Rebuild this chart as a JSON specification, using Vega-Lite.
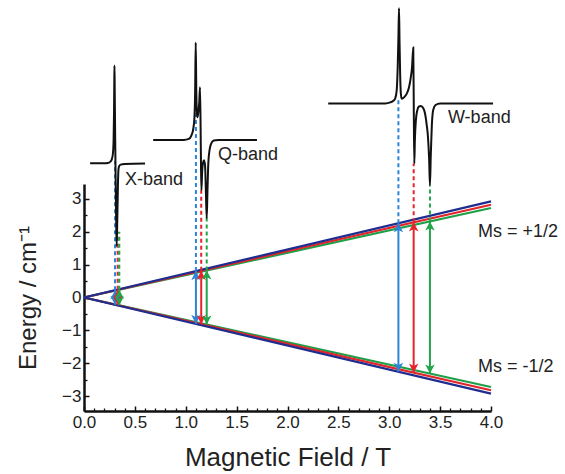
{
  "$schema": "https://vega.github.io/schema/vega-lite/v6.json",
  "width": 407,
  "height": 227,
  "autosize": "none",
  "padding": {"left": 84, "top": 184, "right": 74, "bottom": 63},
  "background": "white",
  "config": {"view": {"stroke": null}, "font": "Liberation Sans"},
  "datasets": {
    "zeeman": [
      {"B": 0, "E": 0, "comp": "g3", "ms": "up"}, {"B": 4, "E": 2.72, "comp": "g3", "ms": "up"},
      {"B": 0, "E": 0, "comp": "g3", "ms": "dn"}, {"B": 4, "E": -2.72, "comp": "g3", "ms": "dn"},
      {"B": 0, "E": 0, "comp": "g2", "ms": "up"}, {"B": 4, "E": 2.82, "comp": "g2", "ms": "up"},
      {"B": 0, "E": 0, "comp": "g2", "ms": "dn"}, {"B": 4, "E": -2.82, "comp": "g2", "ms": "dn"},
      {"B": 0, "E": 0, "comp": "g1", "ms": "up"}, {"B": 4, "E": 2.92, "comp": "g1", "ms": "up"},
      {"B": 0, "E": 0, "comp": "g1", "ms": "dn"}, {"B": 4, "E": -2.92, "comp": "g1", "ms": "dn"}
    ],
    "trans": [
      {"band": "X", "comp": "g1", "B": 0.305, "lo": -0.223, "hi": 0.223, "top": 4.15},
      {"band": "X", "comp": "g2", "B": 0.331, "lo": -0.233, "hi": 0.233, "top": 2.0},
      {"band": "X", "comp": "g3", "B": 0.347, "lo": -0.236, "hi": 0.236, "top": 2.0},
      {"band": "Q", "comp": "g1", "B": 1.10, "lo": -0.803, "hi": 0.803, "top": 5.74},
      {"band": "Q", "comp": "g2", "B": 1.152, "lo": -0.812, "hi": 0.812, "top": 3.26},
      {"band": "Q", "comp": "g3", "B": 1.206, "lo": -0.82, "hi": 0.82, "top": 2.43},
      {"band": "W", "comp": "g1", "B": 3.09, "lo": -2.256, "hi": 2.256, "top": 6.05},
      {"band": "W", "comp": "g2", "B": 3.24, "lo": -2.284, "hi": 2.284, "top": 4.07},
      {"band": "W", "comp": "g3", "B": 3.40, "lo": -2.312, "hi": 2.312, "top": 3.41}
    ],
    "spectra": [
      {"band": "X", "B": 0.06, "E": 4.08}, {"band": "X", "B": 0.20, "E": 4.08}, {"band": "X", "B": 0.235, "E": 4.09},
      {"band": "X", "B": 0.26, "E": 4.13}, {"band": "X", "B": 0.275, "E": 4.22}, {"band": "X", "B": 0.285, "E": 4.4},
      {"band": "X", "B": 0.291, "E": 4.8}, {"band": "X", "B": 0.295, "E": 5.6}, {"band": "X", "B": 0.2975, "E": 6.5},
      {"band": "X", "B": 0.2995, "E": 7.05}, {"band": "X", "B": 0.302, "E": 6.3}, {"band": "X", "B": 0.306, "E": 5.0},
      {"band": "X", "B": 0.311, "E": 3.6}, {"band": "X", "B": 0.316, "E": 2.4}, {"band": "X", "B": 0.321, "E": 1.56},
      {"band": "X", "B": 0.328, "E": 2.5}, {"band": "X", "B": 0.334, "E": 3.5}, {"band": "X", "B": 0.339, "E": 3.9},
      {"band": "X", "B": 0.346, "E": 4.0}, {"band": "X", "B": 0.36, "E": 4.04}, {"band": "X", "B": 0.40, "E": 4.06},
      {"band": "X", "B": 0.60, "E": 4.07},
      {"band": "Q", "B": 0.68, "E": 4.79}, {"band": "Q", "B": 0.98, "E": 4.79}, {"band": "Q", "B": 1.03, "E": 4.82},
      {"band": "Q", "B": 1.055, "E": 4.92}, {"band": "Q", "B": 1.075, "E": 5.15}, {"band": "Q", "B": 1.085, "E": 5.45},
      {"band": "Q", "B": 1.092, "E": 6.2}, {"band": "Q", "B": 1.098, "E": 7.75}, {"band": "Q", "B": 1.104, "E": 6.2},
      {"band": "Q", "B": 1.110, "E": 5.6}, {"band": "Q", "B": 1.115, "E": 5.48}, {"band": "Q", "B": 1.122, "E": 5.6},
      {"band": "Q", "B": 1.132, "E": 5.9}, {"band": "Q", "B": 1.140, "E": 6.39}, {"band": "Q", "B": 1.146, "E": 5.2},
      {"band": "Q", "B": 1.150, "E": 4.0}, {"band": "Q", "B": 1.154, "E": 3.26}, {"band": "Q", "B": 1.161, "E": 3.8},
      {"band": "Q", "B": 1.170, "E": 4.1}, {"band": "Q", "B": 1.180, "E": 4.17}, {"band": "Q", "B": 1.190, "E": 4.0},
      {"band": "Q", "B": 1.198, "E": 3.2}, {"band": "Q", "B": 1.206, "E": 2.41}, {"band": "Q", "B": 1.214, "E": 3.3},
      {"band": "Q", "B": 1.222, "E": 4.1}, {"band": "Q", "B": 1.235, "E": 4.5}, {"band": "Q", "B": 1.25, "E": 4.68},
      {"band": "Q", "B": 1.275, "E": 4.77}, {"band": "Q", "B": 1.32, "E": 4.79}, {"band": "Q", "B": 1.70, "E": 4.79},
      {"band": "W", "B": 2.40, "E": 5.90}, {"band": "W", "B": 2.96, "E": 5.90}, {"band": "W", "B": 3.01, "E": 5.93},
      {"band": "W", "B": 3.04, "E": 5.98}, {"band": "W", "B": 3.057, "E": 6.04}, {"band": "W", "B": 3.073, "E": 6.29},
      {"band": "W", "B": 3.083, "E": 7.0}, {"band": "W", "B": 3.090, "E": 7.9}, {"band": "W", "B": 3.096, "E": 8.79},
      {"band": "W", "B": 3.101, "E": 7.8}, {"band": "W", "B": 3.107, "E": 6.8}, {"band": "W", "B": 3.114, "E": 6.2},
      {"band": "W", "B": 3.122, "E": 6.04}, {"band": "W", "B": 3.15, "E": 6.1}, {"band": "W", "B": 3.171, "E": 6.19},
      {"band": "W", "B": 3.195, "E": 6.4}, {"band": "W", "B": 3.212, "E": 6.7}, {"band": "W", "B": 3.224, "E": 7.0},
      {"band": "W", "B": 3.236, "E": 7.60}, {"band": "W", "B": 3.241, "E": 5.8}, {"band": "W", "B": 3.246, "E": 4.07},
      {"band": "W", "B": 3.252, "E": 4.8}, {"band": "W", "B": 3.262, "E": 5.4}, {"band": "W", "B": 3.275, "E": 5.68},
      {"band": "W", "B": 3.29, "E": 5.80}, {"band": "W", "B": 3.31, "E": 5.82}, {"band": "W", "B": 3.335, "E": 5.75},
      {"band": "W", "B": 3.351, "E": 5.6}, {"band": "W", "B": 3.368, "E": 5.25}, {"band": "W", "B": 3.38, "E": 4.9},
      {"band": "W", "B": 3.392, "E": 4.2}, {"band": "W", "B": 3.400, "E": 3.41}, {"band": "W", "B": 3.408, "E": 4.3},
      {"band": "W", "B": 3.418, "E": 5.2}, {"band": "W", "B": 3.432, "E": 5.7}, {"band": "W", "B": 3.455, "E": 5.85},
      {"band": "W", "B": 3.50, "E": 5.90}, {"band": "W", "B": 4.02, "E": 5.90}
    ],
    "labels": [
      {"B": 0.403, "E": 3.57, "text": "X-band"},
      {"B": 1.317, "E": 4.33, "text": "Q-band"},
      {"B": 3.577, "E": 5.46, "text": "W-band"},
      {"B": 3.872, "E": 1.99, "text": "Ms = +1/2"},
      {"B": 3.872, "E": -2.11, "text": "Ms = -1/2"}
    ]
  },
  "layer": [
    {
      "data": {"name": "zeeman"},
      "mark": {"type": "line", "strokeWidth": 2.2, "clip": false},
      "encoding": {
        "x": {"field": "B", "type": "quantitative", "scale": {"domain": [0, 4], "nice": false, "zero": false},
          "axis": {"orient": "bottom", "title": "Magnetic Field / T", "values": [0, 0.5, 1, 1.5, 2, 2.5, 3, 3.5, 4], "format": ".1f",
            "tickSize": -5, "tickWidth": 1.5, "tickColor": "#111", "domainColor": "#111", "domainWidth": 2.5,
            "labelFontSize": 17, "labelColor": "#222", "labelPadding": 8, "labelFlush": false, "labelOverlap": false,
            "titleFontSize": 26, "titleFontWeight": "normal", "titleColor": "#222", "titlePadding": 14, "grid": false}},
        "y": {"field": "E", "type": "quantitative", "scale": {"domain": [-3.45, 3.45], "nice": false, "zero": false},
          "axis": {"orient": "left", "title": "Energy / cm⁻¹", "values": [-3, -2, -1, 0, 1, 2, 3], "format": "d",
            "tickSize": -5, "tickWidth": 1.5, "tickColor": "#111", "domainColor": "#111", "domainWidth": 2.5,
            "labelFontSize": 17, "labelColor": "#222", "labelPadding": 8, "labelFlush": false, "labelOverlap": false,
            "titleFontSize": 24, "titleFontWeight": "normal", "titleColor": "#222", "titlePadding": 21, "grid": false}},
        "color": {"field": "comp", "type": "nominal", "legend": null,
          "scale": {"domain": ["g1", "g2", "g3"], "range": ["#1e2d8f", "#e0262b", "#1ea04a"]}},
        "detail": {"field": "ms", "type": "nominal"}
      }
    },
    {
      "data": {"name": "trans"},
      "mark": {"type": "rule", "strokeWidth": 2, "strokeDash": [4, 3], "clip": false},
      "encoding": {
        "x": {"field": "B", "type": "quantitative", "scale": {"domain": [0, 4], "nice": false, "zero": false},
          "axis": {"orient": "bottom", "title": null, "labels": false, "domain": false, "grid": false, "tickSize": -3, "tickWidth": 1.3, "tickColor": "#111",
            "values": [0.1, 0.2, 0.3, 0.4, 0.6, 0.7, 0.8, 0.9, 1.1, 1.2, 1.3, 1.4, 1.6, 1.7, 1.8, 1.9, 2.1, 2.2, 2.3, 2.4, 2.6, 2.7, 2.8, 2.9, 3.1, 3.2, 3.3, 3.4, 3.6, 3.7, 3.8, 3.9]}},
        "y": {"field": "hi", "type": "quantitative", "scale": {"domain": [-3.45, 3.45], "nice": false, "zero": false},
          "axis": {"orient": "left", "title": null, "labels": false, "domain": false, "grid": false, "tickSize": -3, "tickWidth": 1.3, "tickColor": "#111",
            "values": [-2.5, -1.5, -0.5, 0.5, 1.5, 2.5]}},
        "y2": {"field": "top"},
        "color": {"field": "comp", "type": "nominal", "legend": null,
          "scale": {"domain": ["g1", "g2", "g3"], "range": ["#2b84d6", "#e8232b", "#22a64a"]}}
      }
    },
    {
      "data": {"name": "spectra"},
      "mark": {"type": "line", "strokeWidth": 2, "color": "#111", "interpolate": "monotone", "clip": false},
      "encoding": {
        "x": {"field": "B", "type": "quantitative", "scale": {"domain": [0, 4], "nice": false, "zero": false}, "axis": null},
        "y": {"field": "E", "type": "quantitative", "scale": {"domain": [-3.45, 3.45], "nice": false, "zero": false}, "axis": null},
        "detail": {"field": "band", "type": "nominal"}
      }
    },
    {
      "data": {"name": "trans"},
      "mark": {"type": "rule", "strokeWidth": 2, "clip": false},
      "encoding": {
        "x": {"field": "B", "type": "quantitative", "scale": {"domain": [0, 4], "nice": false, "zero": false}, "axis": null},
        "y": {"field": "lo", "type": "quantitative", "scale": {"domain": [-3.45, 3.45], "nice": false, "zero": false}, "axis": null},
        "y2": {"field": "hi"},
        "color": {"field": "comp", "type": "nominal", "legend": null,
          "scale": {"domain": ["g1", "g2", "g3"], "range": ["#2b84d6", "#e8232b", "#22a64a"]}}
      }
    },
    {
      "data": {"name": "trans"},
      "mark": {"type": "point", "filled": true, "size": 250, "opacity": 1, "strokeWidth": 0, "clip": false,
        "shape": "M0,0L0.6,1.15L0,0.85L-0.6,1.15Z"},
      "encoding": {
        "x": {"field": "B", "type": "quantitative", "scale": {"domain": [0, 4], "nice": false, "zero": false}, "axis": null},
        "y": {"field": "hi", "type": "quantitative", "scale": {"domain": [-3.45, 3.45], "nice": false, "zero": false}, "axis": null},
        "color": {"field": "comp", "type": "nominal", "legend": null,
          "scale": {"domain": ["g1", "g2", "g3"], "range": ["#2b84d6", "#e8232b", "#22a64a"]}}
      }
    },
    {
      "data": {"name": "trans"},
      "mark": {"type": "point", "filled": true, "size": 250, "opacity": 1, "strokeWidth": 0, "clip": false,
        "shape": "M0,0L0.6,-1.15L0,-0.85L-0.6,-1.15Z"},
      "encoding": {
        "x": {"field": "B", "type": "quantitative", "scale": {"domain": [0, 4], "nice": false, "zero": false}, "axis": null},
        "y": {"field": "lo", "type": "quantitative", "scale": {"domain": [-3.45, 3.45], "nice": false, "zero": false}, "axis": null},
        "color": {"field": "comp", "type": "nominal", "legend": null,
          "scale": {"domain": ["g1", "g2", "g3"], "range": ["#2b84d6", "#e8232b", "#22a64a"]}}
      }
    },
    {
      "data": {"name": "labels"},
      "mark": {"type": "text", "align": "left", "baseline": "middle", "fontSize": 18, "color": "#222", "clip": false},
      "encoding": {
        "x": {"field": "B", "type": "quantitative", "scale": {"domain": [0, 4], "nice": false, "zero": false}, "axis": null},
        "y": {"field": "E", "type": "quantitative", "scale": {"domain": [-3.45, 3.45], "nice": false, "zero": false}, "axis": null},
        "text": {"field": "text", "type": "nominal"}
      }
    }
  ],
  "resolve": {"axis": {"x": "independent", "y": "independent"}, "scale": {"color": "independent"}}
}
